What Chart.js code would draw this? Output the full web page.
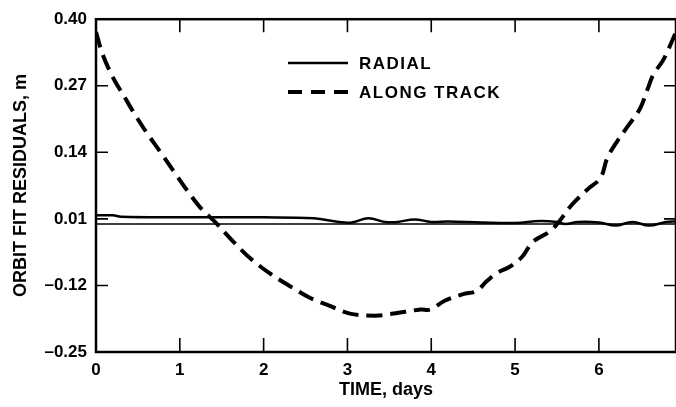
<!DOCTYPE html>
<html>
<head>
<meta charset="utf-8">
<script src="https://cdn.jsdelivr.net/npm/chart.js@4.4.0/dist/chart.umd.min.js"></script>
<style>
html,body{margin:0;padding:0;background:#fff;}
#wrap{width:676px;height:407px;}
</style>
</head>
<body>
<div id="wrap"><canvas id="c" width="676" height="407"></canvas></div>
<script>
// ---- data ----
const xTickValues = [0, 1, 2, 3, 4, 5, 6];
const yTickValues = [-0.25, -0.12, 0.01, 0.14, 0.27, 0.40];
const xMin = 0, xMax = 6.92;
const yMin = -0.25, yMax = 0.40;

const alongTrackDays = [0, 0.08, 0.2, 0.34, 0.46, 0.61, 0.78, 0.94, 1.09, 1.24, 1.42, 1.64, 1.84, 2.07, 2.31, 2.55, 2.79, 3.03, 3.33, 3.55, 3.87, 3.99, 4.16, 4.38, 4.54, 4.66, 4.78, 4.94, 5.09, 5.21, 5.42, 5.54, 5.68, 5.86, 6.02, 6.10, 6.22, 6.35, 6.49, 6.58, 6.65, 6.77, 6.92];
const alongTrackValues = [0.375, 0.331, 0.287, 0.248, 0.215, 0.177, 0.138, 0.100, 0.065, 0.033, 0.004, -0.035, -0.067, -0.096, -0.121, -0.144, -0.160, -0.175, -0.179, -0.175, -0.167, -0.167, -0.150, -0.137, -0.131, -0.112, -0.096, -0.083, -0.063, -0.035, -0.014, 0.008, 0.038, 0.067, 0.090, 0.129, 0.162, 0.192, 0.225, 0.263, 0.292, 0.321, 0.375];

const radialDays = [0, 0.2, 0.3, 1.0, 2.0, 2.6, 2.9, 3.05, 3.25, 3.45, 3.6, 3.8, 4.0, 4.2, 4.6, 5.0, 5.3, 5.5, 5.6, 5.75, 6.0, 6.2, 6.4, 6.6, 6.8, 6.92];
const radialValues = [0.017, 0.017, 0.014, 0.013, 0.013, 0.011, 0.004, 0.003, 0.011, 0.004, 0.004, 0.009, 0.004, 0.005, 0.003, 0.002, 0.006, 0.004, 0.000, 0.004, 0.003, -0.003, 0.004, -0.003, 0.004, 0.005];

const zeroLineDays = [0, 6.92];
const zeroLineValues = [0, 0];

const seriesNames = ['RADIAL', 'ALONG TRACK'];
const xTitle = 'TIME, days';
const yTitle = 'ORBIT FIT RESIDUALS, m';

const toPts = (xs, ys) => xs.map((x, i) => ({x: x, y: ys[i]}));

const FONT = "'Liberation Sans', Arial, Helvetica, sans-serif";

// inward tick marks + frame + legend
const decor = {
  id: 'decor',
  afterDatasetsDraw(chart) {
    const {ctx, chartArea: a, scales} = chart;
    const xs = scales.x, ys = scales.y;
    ctx.save();
    ctx.strokeStyle = '#000';
    ctx.lineWidth = 1.6;
    ctx.beginPath();
    xTickValues.forEach(v => {
      if (v <= xMin) return;
      const px = xs.getPixelForValue(v);
      ctx.moveTo(px, a.bottom); ctx.lineTo(px, a.bottom - 14);
      ctx.moveTo(px, a.top); ctx.lineTo(px, a.top + 13);
    });
    yTickValues.forEach(v => {
      const py = ys.getPixelForValue(v);
      ctx.moveTo(a.left, py); ctx.lineTo(a.left + 12, py);
      ctx.moveTo(a.right, py); ctx.lineTo(a.right - 12, py);
    });
    ctx.stroke();
    // frame
    ctx.lineWidth = 2.5;
    ctx.strokeRect(a.left, a.top, a.right - a.left, a.bottom - a.top);
    // legend
    ctx.font = "bold 17px " + FONT;
    try { ctx.letterSpacing = '1.5px'; } catch (e) {}
    ctx.fillStyle = '#000';
    ctx.textBaseline = 'middle';
    ctx.textAlign = 'left';
    ctx.lineWidth = 2.5;
    ctx.beginPath(); ctx.moveTo(288, 63); ctx.lineTo(348, 63); ctx.stroke();
    ctx.fillText(seriesNames[0], 359, 64);
    ctx.lineWidth = 4;
    ctx.setLineDash([14, 9]);
    ctx.beginPath(); ctx.moveTo(288, 92); ctx.lineTo(348, 92); ctx.stroke();
    ctx.setLineDash([]);
    ctx.fillText(seriesNames[1], 359, 93);
    try { ctx.letterSpacing = '0px'; } catch (e) {}
    ctx.restore();
  }
};

new Chart(document.getElementById('c'), {
  type: 'line',
  data: {
    datasets: [
      {
        label: 'zero',
        data: toPts(zeroLineDays, zeroLineValues),
        borderColor: '#000', borderWidth: 1.6, pointRadius: 0, tension: 0
      },
      {
        label: seriesNames[0],
        data: toPts(radialDays, radialValues),
        borderColor: '#000', borderWidth: 2.5, pointRadius: 0, tension: 0.4
      },
      {
        label: seriesNames[1],
        data: toPts(alongTrackDays, alongTrackValues),
        borderColor: '#000', borderWidth: 4, borderDash: [16, 8], pointRadius: 0, tension: 0.35
      }
    ]
  },
  options: {
    responsive: false,
    animation: false,
    devicePixelRatio: 1,
    layout: {padding: {top: 14, right: 0, left: 0, bottom: 0}},
    plugins: {legend: {display: false}, tooltip: {enabled: false}},
    scales: {
      x: {
        type: 'linear', min: xMin, max: xMax,
        afterBuildTicks: s => { s.ticks = xTickValues.map(v => ({value: v})); },
        afterFit: s => { s.height = 55; },
        grid: {display: false, drawTicks: false},
        border: {display: false},
        ticks: {color: '#000', font: {family: FONT, size: 17, weight: 'bold'}, padding: 8, maxRotation: 0,
                callback: v => String(v)},
        title: {display: true, text: xTitle, color: '#000', font: {family: FONT, size: 18, weight: 'bold'}, padding: {top: 0, bottom: 6}}
      },
      y: {
        type: 'linear', min: yMin, max: yMax,
        afterBuildTicks: s => { s.ticks = yTickValues.map(v => ({value: v})); },
        afterFit: s => { s.width = 96; },
        grid: {display: false, drawTicks: false},
        border: {display: false},
        ticks: {color: '#000', font: {family: FONT, size: 17, weight: 'bold'}, padding: 9,
                callback: v => (v < 0 ? '\u2013' + Math.abs(v).toFixed(2) : v.toFixed(2))},
        title: {display: true, text: yTitle, color: '#000', font: {family: FONT, size: 18, weight: 'bold'}, padding: {top: 10, bottom: 0}}
      }
    }
  },
  plugins: [decor]
});
</script>
</body>
</html>
